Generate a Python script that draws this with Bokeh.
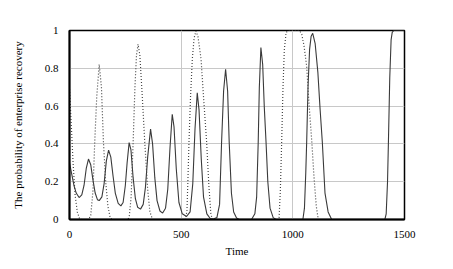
from bokeh.plotting import figure
from bokeh.embed import file_html
from bokeh.resources import INLINE
from bokeh.models import FixedTicker, NumeralTickFormatter, Range1d

# Solid series: time and probability
solid_t = [0, 10, 20, 30, 43, 55, 65, 75, 85, 95, 105, 115, 125, 133, 145, 155, 165, 175, 185, 195,
           205, 218, 230, 240, 250, 258, 267, 275, 285, 295, 305, 318, 330, 340, 350, 363, 372, 382,
           392, 405, 417, 430, 440, 450, 460, 468, 478, 490, 505, 524, 540, 552, 562, 572, 580, 590,
           600, 615, 630, 644, 660, 672, 681, 690, 699, 708, 715, 725, 735, 748, 760, 815, 830, 838,
           845, 850, 857, 865, 872, 880, 888, 898, 912, 925, 1045, 1052, 1058, 1062, 1068, 1075, 1082,
           1089, 1100, 1112, 1122, 1132, 1144, 1158, 1174, 1412, 1418, 1424, 1428, 1434, 1440, 1445,
           1452, 1500]
solid_y = [0.30, 0.24, 0.18, 0.14, 0.116, 0.13, 0.18, 0.27, 0.32, 0.29, 0.21, 0.14, 0.105, 0.10, 0.12,
           0.19, 0.31, 0.367, 0.33, 0.23, 0.14, 0.085, 0.072, 0.09, 0.18, 0.30, 0.407, 0.37, 0.22, 0.11,
           0.065, 0.055, 0.08, 0.17, 0.33, 0.478, 0.40, 0.22, 0.10, 0.045, 0.034, 0.06, 0.16, 0.38, 0.557,
           0.49, 0.27, 0.09, 0.03, 0.016, 0.04, 0.19, 0.48, 0.67, 0.58, 0.32, 0.12, 0.03, 0.005, 0.003,
           0.01, 0.08, 0.41, 0.68, 0.795, 0.68, 0.41, 0.14, 0.04, 0.008, 0.0, 0.0, 0.03, 0.12, 0.41, 0.70,
           0.91, 0.82, 0.60, 0.41, 0.20, 0.06, 0.01, 0.0, 0.0, 0.06, 0.25, 0.41, 0.70, 0.90, 0.97, 0.985,
           0.93, 0.78, 0.585, 0.41, 0.14, 0.04, 0.0, 0.0, 0.03, 0.2, 0.41, 0.75, 0.95, 0.99, 1.0, 1.0]

# Dotted series
dot_t = [0, 8, 16, 25, 35, 45, 55, 85, 95, 105, 113, 122, 133, 143, 152, 162, 172, 182, 190, 262,
         268, 276, 285, 293, 300, 307, 315, 325, 337, 350, 360, 372, 520, 526, 530, 535, 542, 550,
         558, 566, 575, 589, 600, 614, 624, 633, 640, 938, 944, 950, 956, 962, 970, 980, 1030, 1040,
         1050, 1062, 1072, 1085, 1095, 1105, 1114, 1500]
dot_y = [0.69, 0.50, 0.30, 0.13, 0.04, 0.005, 0.0, 0.0, 0.02, 0.15, 0.41, 0.65, 0.82, 0.70, 0.41, 0.20,
         0.07, 0.01, 0.0, 0.0, 0.02, 0.12, 0.41, 0.70, 0.87, 0.927, 0.87, 0.67, 0.41, 0.16, 0.04, 0.0,
         0.0, 0.05, 0.20, 0.41, 0.65, 0.85, 0.96, 0.997, 0.97, 0.85, 0.65, 0.41, 0.18, 0.03, 0.0, 0.0,
         0.15, 0.41, 0.70, 0.90, 0.99, 1.0, 1.0, 0.98, 0.92, 0.81, 0.62, 0.41, 0.22, 0.07, 0.0, 0.0]

x_ticks = [0, 500, 1000, 1500]
y_ticks = [0, 0.2, 0.4, 0.6, 0.8, 1]

FONT = "Liberation Serif"

p = figure(frame_width=335, frame_height=189, min_border_left=69, min_border_right=38,
           min_border_top=30, min_border_bottom=38, output_backend="svg", toolbar_location=None,
           x_range=Range1d(0, 1500), y_range=Range1d(0, 1))

p.line(solid_t, solid_y, line_color="#3a3a3a", line_width=1.1)
p.line(dot_t, dot_y, line_color="#444444", line_width=1.2, line_dash="1 2")

p.background_fill_color = "white"
p.border_fill_color = "white"
p.outline_line_color = "black"
p.outline_line_width = 1.5

for ax in (p.xaxis[0], p.yaxis[0]):
    ax.axis_line_color = "black"
    ax.axis_line_width = 2
    ax.major_tick_line_color = None
    ax.minor_tick_line_color = None
    ax.major_label_text_font = FONT
    ax.major_label_text_font_size = "11px"
    ax.major_label_text_color = "black"
    ax.axis_label_text_font = FONT
    ax.axis_label_text_font_size = "11px"
    ax.axis_label_text_font_style = "normal"
    ax.axis_label_text_color = "black"

p.xaxis.ticker = FixedTicker(ticks=x_ticks)
p.yaxis.ticker = FixedTicker(ticks=y_ticks)
p.yaxis.formatter = NumeralTickFormatter(format="0.[0]")
p.xaxis.major_label_standoff = 5
p.yaxis.major_label_standoff = 5
p.xaxis.axis_label = "Time"
p.yaxis.axis_label = "The probability of enterprise recovery"
p.xaxis.axis_label_standoff = 4
p.yaxis.axis_label_standoff = 18

p.xgrid.grid_line_color = "#c8c8c8"
p.ygrid.grid_line_color = "#c8c8c8"
p.xgrid.grid_line_width = 1
p.ygrid.grid_line_width = 1

open("out.html", "w").write(file_html(p, INLINE))
